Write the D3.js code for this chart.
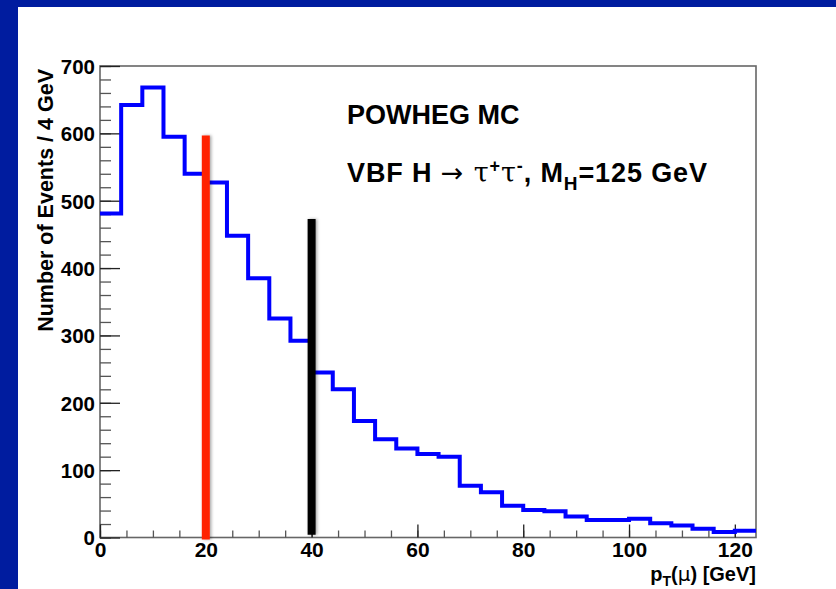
<html>
<head>
<meta charset="utf-8">
<style>
    body{ margin:0; }
    .tick text{ font-family: "Liberation Sans", Arial, sans-serif; font-weight: bold; fill: #000; }
    .lbl{ font-family: "Liberation Sans", Arial, sans-serif; font-weight: bold; fill: #000; }
    .sym{ font-weight: normal; font-family: "DejaVu Sans", sans-serif; }
</style>
</head>
<script src="https://d3js.org/d3.v7.min.js"></script>
<body>
    <svg id="chart"></svg>
</body>
<script>
    // histogram: lower bin edges (GeV), bin width 4
    let binLow = [0,4,8,12,16,20,24,28,32,36,40,44,48,52,56,60,64,68,72,76,80,84,88,92,96,100,104,108,112,116,120]
    let counts = [481,642,668,595,540,527,448,385,325,292,245,220,173,146,132,124,120,77,67,47,41,39,31,26,26,28,21,18,13,8,10]
    let binWidth = 4

    // vertical cut lines
    let cutAt = [20, 40]
    let cutTop = [597, 473]
    let cutBottom = [-3, 4]

    let xTicks = [0,20,40,60,80,100,120]
    let yTicks = [0,100,200,300,400,500,600,700]

    let width = 836, height = 589
    let margin = {left: 100, right: 80, top: 66, bottom: 51.5}

    let svg = d3.select('#chart').attr('width', width).attr('height', height)

    let defs = svg.append('defs')
    defs.append('filter').attr('id', 'shadow')
        .attr('filterUnits', 'userSpaceOnUse')
        .attr('x', 0).attr('y', 0).attr('width', width).attr('height', height)
        .append('feDropShadow')
        .attr('dx', 1.5).attr('dy', 0).attr('stdDeviation', 1.4)
        .attr('flood-color', '#000').attr('flood-opacity', 0.35)

    // page background
    svg.append('rect').attr('width', width).attr('height', height).attr('fill', '#001c9f')
    svg.append('rect').attr('x', 18).attr('y', 7).attr('width', width - 18).attr('height', height - 7).attr('fill', '#fff')

    let xScale = d3.scaleLinear().domain([0, 124]).range([margin.left, width - margin.right])
    let yScale = d3.scaleLinear().domain([0, 700]).range([height - margin.bottom, margin.top])

    // frame
    svg.append('rect')
        .attr('x', xScale(0)).attr('y', yScale(700))
        .attr('width', xScale(124) - xScale(0)).attr('height', yScale(0) - yScale(700))
        .attr('fill', 'none').attr('stroke', '#666').attr('stroke-width', 1.6)

    // minor ticks
    let yMinor = svg.append('g').attr('transform', `translate(${xScale(0)},0)`)
        .call(d3.axisLeft(yScale).tickValues(d3.range(0, 701, 20)).tickSize(-11).tickFormat(''))
    let xMinor = svg.append('g').attr('transform', `translate(0,${yScale(0)})`)
        .call(d3.axisBottom(xScale).tickValues(d3.range(0, 124, 5)).tickSize(-7).tickFormat(''))

    // major ticks + labels
    let yAxis = svg.append('g').attr('transform', `translate(${xScale(0)},0)`)
        .call(d3.axisLeft(yScale).tickValues(yTicks).tickSize(-20).tickPadding(5).tickFormat(d3.format('d')))
    yAxis.selectAll('text').style('font-size', '20.5px').attr('dy', '0.36em')

    let xAxis = svg.append('g').attr('transform', `translate(0,${yScale(0)})`)
        .call(d3.axisBottom(xScale).tickValues(xTicks).tickSize(-13).tickPadding(4).tickFormat(d3.format('d')))
    xAxis.selectAll('text').style('font-size', '21px').attr('dy', '0.72em')

    svg.selectAll('.domain').remove()
    svg.selectAll('.tick line').attr('stroke', '#222').attr('stroke-width', 1.3)
    yMinor.selectAll('line').attr('stroke', '#555')
    xMinor.selectAll('line').attr('stroke', '#555')

    // histogram
    let pts = binLow.map((b, i) => [b, counts[i]])
    pts.push([binLow[binLow.length - 1] + binWidth, counts[counts.length - 1]])
    let histLine = d3.line()
        .x(d => xScale(d[0]))
        .y(d => yScale(d[1]))
        .curve(d3.curveStepAfter)
    svg.append('path')
        .datum(pts)
        .attr('d', histLine)
        .attr('fill', 'none')
        .attr('stroke', '#0000ff')
        .attr('stroke-width', 4)

    // cut lines
    let cutColors = ['#ff2200', '#000000']
    svg.selectAll('.cut')
        .data(cutAt)
        .enter().append('line')
        .attr('class', 'cut')
        .attr('x1', d => xScale(d)).attr('x2', d => xScale(d))
        .attr('y1', (d, i) => yScale(cutBottom[i]))
        .attr('y2', (d, i) => yScale(cutTop[i]))
        .attr('stroke', (d, i) => cutColors[i])
        .attr('stroke-width', 8)
        .attr('filter', 'url(#shadow)')

    // annotations
    svg.append('text').attr('class', 'lbl')
        .attr('x', 347).attr('y', 124)
        .style('font-size', '27px')
        .text('POWHEG MC')

    let t2 = svg.append('text').attr('class', 'lbl')
        .attr('x', 347).attr('y', 182)
        .attr('textLength', 360).attr('lengthAdjust', 'spacing')
        .style('font-size', '27px')
    t2.append('tspan').text('VBF H ')
    t2.append('tspan').attr('class', 'sym').text('\u2192 ')
    t2.append('tspan').attr('class', 'sym').style('font-family', '"DejaVu Serif", serif').text('\u03c4')
    t2.append('tspan').attr('dy', -10).style('font-size', '18px').text('+')
    t2.append('tspan').attr('dy', 10).attr('class', 'sym').style('font-family', '"DejaVu Serif", serif').text('\u03c4')
    t2.append('tspan').attr('dy', -10).style('font-size', '18px').text('-')
    t2.append('tspan').attr('dy', 10).text(', M')
    t2.append('tspan').attr('dy', 8).style('font-size', '19px').text('H')
    t2.append('tspan').attr('dy', -8).text('=125 GeV')

    // axis titles
    svg.append('text').attr('class', 'lbl')
        .attr('transform', 'translate(53,69) rotate(-90)')
        .attr('text-anchor', 'end')
        .style('font-size', '21.5px')
        .text('Number of Events / 4 GeV')

    let xt = svg.append('text').attr('class', 'lbl')
        .attr('x', xScale(124)).attr('y', 581)
        .attr('text-anchor', 'end')
        .style('font-size', '20px')
    xt.append('tspan').text('p')
    xt.append('tspan').attr('dy', 5).style('font-size', '14px').text('T')
    xt.append('tspan').attr('dy', -5).text('(')
    xt.append('tspan').attr('class', 'sym').text('\u03bc')
    xt.append('tspan').text(') [GeV]')
</script>
</html>
